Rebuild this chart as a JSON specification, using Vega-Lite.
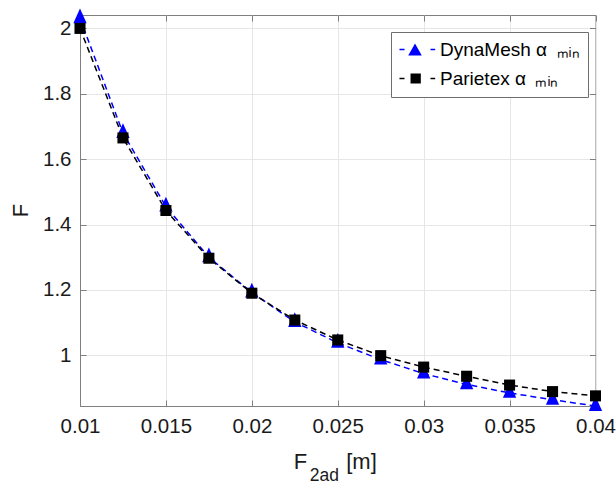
{
  "$schema": "https://vega.github.io/schema/vega-lite/v6.json",
  "autosize": "none",
  "width": 515.5,
  "height": 391,
  "padding": {"left": 80, "top": 15, "right": 20.5, "bottom": 77},
  "background": "white",
  "config": {
    "view": {"stroke": "#7f7f7f", "strokeWidth": 1},
    "axis": {"titleFontWeight": "normal", "labelFont": "Liberation Sans", "titleFont": "Liberation Sans", "labelColor": "#1a1a1a", "titleColor": "#1a1a1a", "domainColor": "#7f7f7f", "tickColor": "#7f7f7f", "gridColor": "#e6e6e6"}
  },
  "data": {
    "values": [
      {"x": 0.01, "F": 2.031, "series": "DynaMesh"},
      {"x": 0.0125, "F": 1.68, "series": "DynaMesh"},
      {"x": 0.015, "F": 1.455, "series": "DynaMesh"},
      {"x": 0.0175, "F": 1.3, "series": "DynaMesh"},
      {"x": 0.02, "F": 1.192, "series": "DynaMesh"},
      {"x": 0.0225, "F": 1.102, "series": "DynaMesh"},
      {"x": 0.025, "F": 1.038, "series": "DynaMesh"},
      {"x": 0.0275, "F": 0.987, "series": "DynaMesh"},
      {"x": 0.03, "F": 0.944, "series": "DynaMesh"},
      {"x": 0.0325, "F": 0.911, "series": "DynaMesh"},
      {"x": 0.035, "F": 0.885, "series": "DynaMesh"},
      {"x": 0.0375, "F": 0.864, "series": "DynaMesh"},
      {"x": 0.04, "F": 0.845, "series": "DynaMesh"},
      {"x": 0.01, "F": 2.0, "series": "Parietex"},
      {"x": 0.0125, "F": 1.665, "series": "Parietex"},
      {"x": 0.015, "F": 1.443, "series": "Parietex"},
      {"x": 0.0175, "F": 1.297, "series": "Parietex"},
      {"x": 0.02, "F": 1.19, "series": "Parietex"},
      {"x": 0.0225, "F": 1.108, "series": "Parietex"},
      {"x": 0.025, "F": 1.047, "series": "Parietex"},
      {"x": 0.0275, "F": 0.999, "series": "Parietex"},
      {"x": 0.03, "F": 0.964, "series": "Parietex"},
      {"x": 0.0325, "F": 0.936, "series": "Parietex"},
      {"x": 0.035, "F": 0.909, "series": "Parietex"},
      {"x": 0.0375, "F": 0.889, "series": "Parietex"},
      {"x": 0.04, "F": 0.876, "series": "Parietex"}
    ]
  },
  "resolve": {"axis": {"x": "independent", "y": "independent"}},
  "layer": [
    {
      "mark": {"type": "line", "strokeWidth": 1.5, "strokeDash": [6, 4]},
      "encoding": {
        "x": {"field": "x", "type": "quantitative", "scale": {"domain": [0.01, 0.04], "nice": false, "zero": false},
          "axis": {"orient": "bottom", "values": [0.01, 0.015, 0.02, 0.025, 0.03, 0.035, 0.04], "format": "~g", "labelFontSize": 20.5, "labelPadding": 16, "tickSize": -6, "grid": true, "labelFlush": false, "labelOverlap": false,
            "title": "F", "titleFontSize": 22, "titleX": 213.3, "titleY": 62, "titleAlign": "left", "titleBaseline": "alphabetic", "titleAngle": 0}},
        "y": {"field": "F", "type": "quantitative", "scale": {"domain": [0.845, 2.041], "nice": false, "zero": false},
          "axis": {"orient": "left", "values": [1, 1.2, 1.4, 1.6, 1.8, 2], "format": "~g", "labelFontSize": 20.5, "labelPadding": 15, "tickSize": -6, "grid": true, "labelFlush": false, "labelOverlap": false,
            "title": "F", "titleFontSize": 22, "titleX": -53, "titleY": 195, "titleAlign": "center", "titleBaseline": "alphabetic", "titleAngle": 270}},
        "color": {"field": "series", "type": "nominal", "scale": {"domain": ["DynaMesh", "Parietex"], "range": ["#0000ff", "#000000"]},
          "legend": {"orient": "none", "legendX": 311, "legendY": 17, "title": null, "padding": 8, "strokeColor": "#6e6e6e", "fillColor": "white",
            "labelFont": "Liberation Sans", "labelFontSize": 19, "labelColor": "#000000", "symbolSize": 196, "labelOffset": 22, "rowPadding": 9,
            "labelExpr": "datum.label + ' α\u2002ₘᵢₙ'", "symbolStrokeWidth": 0, "symbolType": "square",
            "encode": {"symbols": {"update": {
              "shape": {"signal": "datum.value == 'DynaMesh' ? 'M-1.29,-0.1H-0.57V0.1H-1.29Z M0.93,-0.86L1.9,0.86L-0.04,0.86Z M3.14,-0.1H3.81V0.1H3.14Z' : 'M-1.29,-0.1H-0.57V0.1H-1.29Z M0.29,-0.73H1.76V0.73H0.29Z M3.14,-0.1H3.81V0.1H3.14Z'"},
              "fill": {"signal": "datum.value == 'DynaMesh' ? '#0000ff' : '#000000'"},
              "fillOpacity": {"value": 1},
              "strokeWidth": {"value": 0}
            }}}}}
      }
    },
    {
      "transform": [{"filter": "datum.series == 'DynaMesh'"}],
      "mark": {"type": "point", "filled": true, "opacity": 1, "size": 196, "shape": "M0,-1.4L0.95,0.7L-0.95,0.7Z", "color": "#0000ff"},
      "encoding": {
        "x": {"field": "x", "type": "quantitative", "axis": null},
        "y": {"field": "F", "type": "quantitative", "axis": null}
      }
    },
    {
      "transform": [{"filter": "datum.series == 'Parietex'"}],
      "mark": {"type": "point", "filled": true, "opacity": 1, "size": 196, "shape": "M-0.79,-0.79H0.79V0.79H-0.79Z", "color": "#000000"},
      "encoding": {
        "x": {"field": "x", "type": "quantitative", "axis": null},
        "y": {"field": "F", "type": "quantitative", "axis": null}
      }
    },
    {
      "mark": {"type": "point", "opacity": 0},
      "encoding": {
        "x": {"field": "x", "type": "quantitative",
          "axis": {"orient": "top", "values": [0.01, 0.015, 0.02, 0.025, 0.03, 0.035, 0.04], "labels": false, "grid": false, "domain": false, "tickSize": -6,
            "title": "2ad", "titleFontSize": 17.5, "titleX": 229.3, "titleY": 465, "titleAlign": "left", "titleBaseline": "alphabetic", "titleAngle": 0}},
        "y": {"field": "F", "type": "quantitative",
          "axis": {"orient": "right", "values": [1, 1.2, 1.4, 1.6, 1.8, 2], "labels": false, "grid": false, "domain": false, "tickSize": -6,
            "title": "[m]", "titleFontSize": 22, "titleX": -249.8, "titleY": 453, "titleAlign": "left", "titleBaseline": "alphabetic", "titleAngle": 0}}
      }
    }
  ]
}
